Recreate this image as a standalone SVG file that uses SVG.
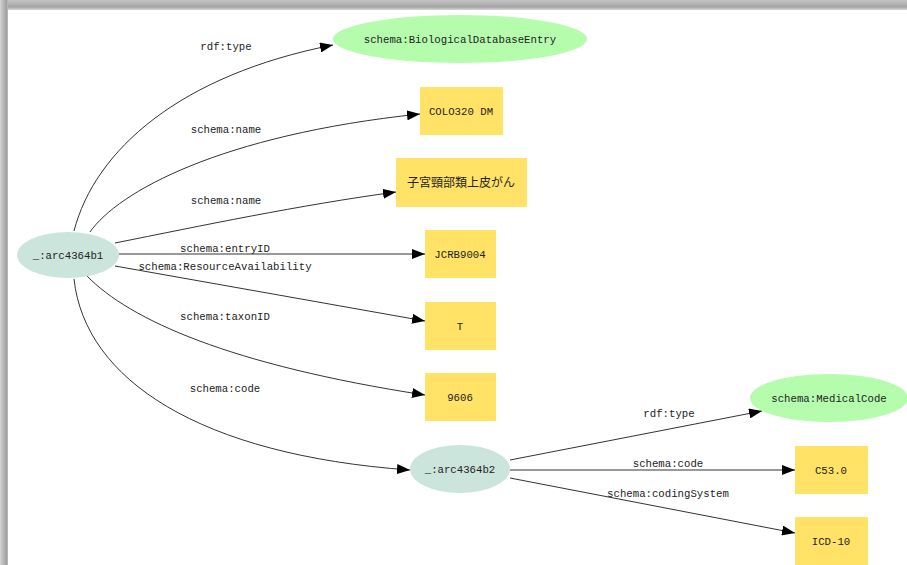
<svg xmlns="http://www.w3.org/2000/svg" width="907" height="565" viewBox="0 0 907 565">
<defs>
<linearGradient id="gTop" x1="0" y1="0" x2="0" y2="1">
<stop offset="0" stop-color="#c4c4c4"/><stop offset="0.7" stop-color="#a4a4a4"/><stop offset="1" stop-color="#d8d8d8"/>
</linearGradient>
<linearGradient id="gLeft" x1="0" y1="0" x2="1" y2="0">
<stop offset="0" stop-color="#d4d4d4"/><stop offset="0.8" stop-color="#a0a0a0"/><stop offset="1" stop-color="#bcbcbc"/>
</linearGradient>
<marker id="arr" markerUnits="userSpaceOnUse" markerWidth="14" markerHeight="10" refX="13" refY="5" orient="auto">
<path d="M0,0 L13,5 L0,10 Z" fill="#000"/>
</marker>
</defs>
<style>
.edge{fill:none;stroke:#333;stroke-width:1;marker-end:url(#arr)}
.t{font-family:"Liberation Mono","DejaVu Sans Mono",monospace;font-size:10.7px;fill:#222;text-anchor:middle}
.j{font-family:"Noto Sans CJK JP","Noto Sans CJK SC",sans-serif;font-size:12px;fill:#222;text-anchor:middle}
.bn{fill:#cbe5dc}
.cls{fill:#b5fcad}
.lit{fill:#ffe266}
</style>
<rect x="0" y="0" width="907" height="565" fill="#fff"/>
<rect x="0" y="0" width="907" height="10" fill="url(#gTop)"/>
<rect x="0" y="0" width="8" height="565" fill="url(#gLeft)"/>

<g id="connectors">
<path class="edge" d="M74,231 C95,150 180,75 333,45"/>
<path class="edge" d="M90,232 C118,192 220,135 420,114"/>
<path class="edge" d="M115,243 C200,226 300,205 396,192"/>
<path class="edge" d="M119,254 L425,254"/>
<path class="edge" d="M115,266 L425,321"/>
<path class="edge" d="M87,276 C130,320 230,365 425,395"/>
<path class="edge" d="M74,279 C85,380 200,455 410,470"/>
<path class="edge" d="M510,460 L762,411"/>
<path class="edge" d="M510,470 L795,470"/>
<path class="edge" d="M510,478 L795,533"/>
<text class="t" x="226" y="50">rdf:type</text>
<text class="t" x="226" y="133">schema:name</text>
<text class="t" x="226" y="204">schema:name</text>
<text class="t" x="225" y="252">schema:entryID</text>
<text class="t" x="225" y="270">schema:ResourceAvailability</text>
<text class="t" x="225" y="320">schema:taxonID</text>
<text class="t" x="225" y="392">schema:code</text>
<text class="t" x="669" y="417">rdf:type</text>
<text class="t" x="668" y="467">schema:code</text>
<text class="t" x="668" y="497">schema:codingSystem</text>
</g>

<g id="b1"><ellipse class="bn" cx="68" cy="255" rx="51" ry="23"/><text class="t" x="68" y="259">_:arc4364b1</text></g>
<g id="bioDbEntry"><ellipse class="cls" cx="460" cy="39" rx="127" ry="24"/><text class="t" x="460" y="43">schema:BiologicalDatabaseEntry</text></g>
<g id="colo"><rect class="lit" x="420" y="87" width="83" height="48"/><text class="t" x="461" y="115">COLO320 DM</text></g>
<g id="jaName"><rect class="lit" x="396" y="158" width="131" height="49"/><text class="j" x="461" y="187">子宮頸部類上皮がん</text></g>
<g id="entryId"><rect class="lit" x="425" y="230" width="71" height="48"/><text class="t" x="460" y="258">JCRB9004</text></g>
<g id="avail"><rect class="lit" x="425" y="302" width="71" height="48"/><text class="t" x="460" y="330">T</text></g>
<g id="taxon"><rect class="lit" x="425" y="373" width="71" height="48"/><text class="t" x="460" y="401">9606</text></g>
<g id="b2"><ellipse class="bn" cx="460" cy="469" rx="50" ry="24"/><text class="t" x="460" y="473">_:arc4364b2</text></g>
<g id="medicalCode"><ellipse class="cls" cx="829" cy="398" rx="79" ry="24"/><text class="t" x="829" y="402">schema:MedicalCode</text></g>
<g id="c53"><rect class="lit" x="795" y="446" width="73" height="48"/><text class="t" x="831" y="474">C53.0</text></g>
<g id="icd"><rect class="lit" x="795" y="517" width="73" height="48"/><text class="t" x="831" y="545">ICD-10</text></g>
</svg>
